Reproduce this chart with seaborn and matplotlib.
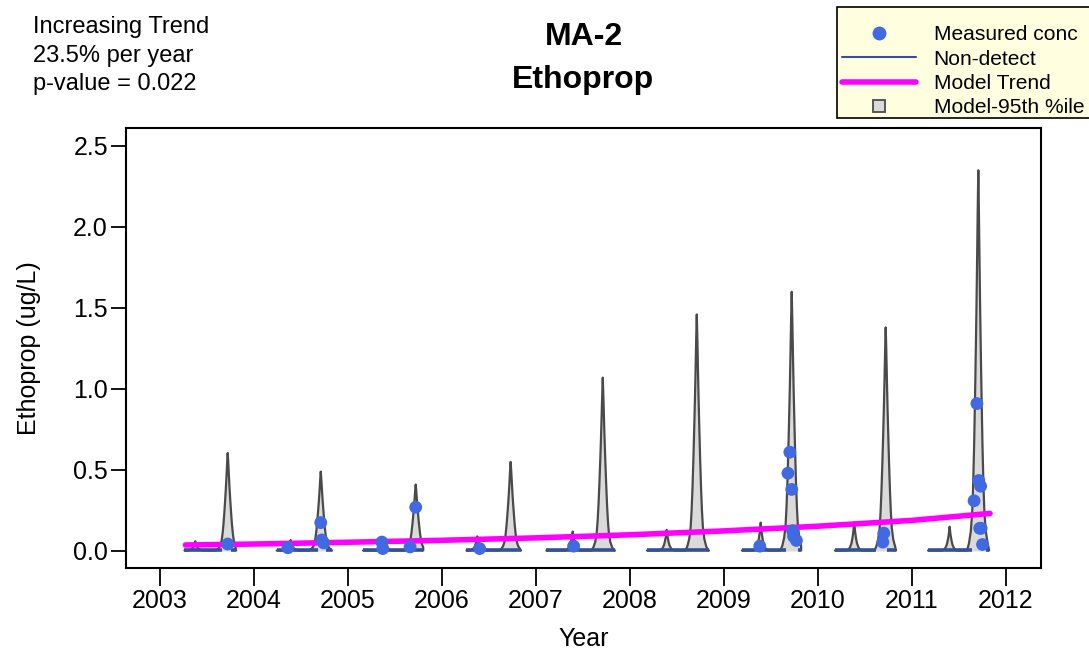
import numpy as np
import pandas as pd
import matplotlib
matplotlib.use("Agg")
import matplotlib.pyplot as plt
import seaborn as sns
from matplotlib.lines import Line2D
from matplotlib.patches import Rectangle

# ---------------- data ----------------
years = [2003, 2004, 2005, 2006, 2007, 2008, 2009, 2010, 2011]
season_start = [2003.26, 2004.24, 2005.16, 2006.26, 2007.11, 2008.18, 2009.19, 2010.18, 2011.17]
season_end = [2003.81, 2004.83, 2005.80, 2006.84, 2007.84, 2008.84, 2009.82, 2010.83, 2011.82]
small_peak_date = [2003.375, 2004.39, 2005.39, 2006.375, 2007.39, 2008.39, 2009.39, 2010.385, 2011.40]
small_peak_conc = [0.06, 0.068, 0.07, 0.09, 0.12, 0.13, 0.175, 0.177, 0.15]
big_peak_date = [2003.72, 2004.71, 2005.72, 2006.73, 2007.71, 2008.71, 2009.72, 2010.72, 2011.705]
big_peak_conc = [0.605, 0.49, 0.41, 0.55, 1.07, 1.46, 1.60, 1.38, 2.35]
base_conc = 0.003

# peak shapes: offset from peak (yr) and fraction of peak height
big_offsets = [0.0, 0.006, 0.013, 0.02, 0.027, 0.035, 0.045, 0.055, 0.065, 0.08, 0.10, 0.12]
big_fracs = [1.0, 0.9, 0.76, 0.63, 0.52, 0.4, 0.27, 0.17, 0.10, 0.05, 0.018, 0.0]
small_offsets = [0.0, 0.005, 0.01, 0.02, 0.03, 0.045, 0.06, 0.08]
small_fracs = [1.0, 0.82, 0.65, 0.42, 0.25, 0.11, 0.04, 0.0]

# measured concentrations
meas_date = [2003.72, 2004.36, 2004.71, 2004.72, 2004.74, 2005.36, 2005.37, 2005.66, 2005.72,
             2006.40, 2007.40, 2009.38, 2009.70, 2009.68, 2009.72, 2009.73, 2009.74, 2009.77,
             2010.70, 2010.69, 2011.69, 2011.71, 2011.73, 2011.66, 2011.72, 2011.735, 2011.75]
meas_conc = [0.043, 0.02, 0.175, 0.068, 0.05, 0.055, 0.015, 0.025, 0.27,
             0.015, 0.03, 0.03, 0.61, 0.48, 0.38, 0.125, 0.09, 0.065,
             0.11, 0.055, 0.91, 0.435, 0.40, 0.31, 0.14, 0.14, 0.04]

# non-detect spans (start, end)
nd_start = [2003.26, 2003.75, 2004.24, 2004.38, 2004.77, 2005.16, 2005.39, 2005.68, 2006.26, 2006.42,
            2007.11, 2007.42, 2008.18, 2009.19, 2009.40, 2009.79, 2010.18, 2010.73, 2011.17, 2011.79]
nd_end = [2003.66, 2003.81, 2004.34, 2004.68, 2004.83, 2005.34, 2005.64, 2005.80, 2006.38, 2006.84,
          2007.38, 2007.84, 2008.84, 2009.36, 2009.66, 2009.82, 2010.62, 2010.83, 2011.64, 2011.82]
nd_level = 0.008

# model trend
trend_date = [2003.27, 2004.0, 2005.0, 2006.0, 2007.0, 2008.0, 2009.0, 2010.0, 2011.0, 2011.83]
trend_conc = [0.037, 0.043, 0.054, 0.066, 0.081, 0.100, 0.124, 0.153, 0.189, 0.232]

x_ticks = [2003, 2004, 2005, 2006, 2007, 2008, 2009, 2010, 2011, 2012]
y_ticks = [0.0, 0.5, 1.0, 1.5, 2.0, 2.5]
y_tick_labels = ["0.0", "0.5", "1.0", "1.5", "2.0", "2.5"]

# ---------------- build model curve table ----------------
rows = []
for i, yr in enumerate(years):
    pts = [(season_start[i], base_conc)]
    for pd_, pc, offs, frs in [(small_peak_date[i], small_peak_conc[i], small_offsets, small_fracs),
                               (big_peak_date[i], big_peak_conc[i], big_offsets, big_fracs)]:
        left = [(pd_ - o, base_conc + (pc - base_conc) * f) for o, f in zip(offs[::-1], frs[::-1])]
        right = [(pd_ + o, base_conc + (pc - base_conc) * f) for o, f in zip(offs[1:], frs[1:])]
        pts += left + right
    pts.append((season_end[i], base_conc))
    pts = [p for p in pts if season_start[i] <= p[0] <= season_end[i]]
    pts.sort(key=lambda p: p[0])
    for d, c in pts:
        rows.append({"year": yr, "date": d, "conc": c})
model_df = pd.DataFrame(rows)
meas_df = pd.DataFrame({"date": meas_date, "conc": meas_conc})
trend_df = pd.DataFrame({"date": trend_date, "conc": trend_conc})

# ---------------- plot ----------------
sns.set_style("ticks")
plt.rcParams["font.family"] = ["Liberation Sans", "DejaVu Sans"]
plt.rcParams.update({"text.color": "black", "axes.labelcolor": "black",
                     "xtick.color": "black", "ytick.color": "black"})

W, H = 1089, 656
fig = plt.figure(figsize=(W / 100, H / 100), dpi=100)
ax = fig.add_axes([126 / W, 1 - 568 / H, (1041 - 126) / W, (568 - 128) / H])

fill_c = "#dadada"
line_c = "#4a4a4a"
for yr, g in model_df.groupby("year"):
    ax.fill_between(g["date"], 0, g["conc"], color=fill_c, lw=0, zorder=1)
sns.lineplot(data=model_df, x="date", y="conc", units="year", estimator=None, sort=False,
             color=line_c, lw=1.6, ax=ax, zorder=2)
ax.hlines([nd_level] * len(nd_start), nd_start, nd_end, color="#34509c", lw=2.6, zorder=3)
sns.lineplot(data=trend_df, x="date", y="conc", color="#ff00ff", lw=4, ax=ax, zorder=4)
sns.scatterplot(data=meas_df, x="date", y="conc", color="#4169e1", s=85, edgecolor="none",
                ax=ax, zorder=5)

ax.set_xlim(2002.638, 2012.372)
ax.set_ylim(-0.105, 2.611)
ax.set_xticks(x_ticks)
ax.set_xticklabels([str(v) for v in x_ticks])
ax.set_yticks(y_ticks)
ax.set_yticklabels(y_tick_labels)
ax.tick_params(axis="x", length=13, width=1.3, labelsize=18, pad=2, color="black", labelcolor="black")
ax.tick_params(axis="y", length=11, width=1.3, labelsize=18, pad=2, color="black", labelcolor="black")
for s in ax.spines.values():
    s.set_visible(True)
    s.set_linewidth(1.5)
    s.set_color("black")

ax.set_xlabel("Year", fontsize=18, color="black")
ax.set_ylabel("Ethoprop (ug/L)", fontsize=18, color="black")
ax.xaxis.set_label_coords(0.5, -(627 - 568) / 440)
ax.yaxis.set_label_coords(-(126 - 41) / 915, 0.5)

# title
fig.text(583.5 / W, 1 - 45 / H, "MA-2", ha="center", va="baseline", fontsize=23, fontweight="bold", color="black")
fig.text(583.5 / W, 1 - 88 / H, "Ethoprop", ha="center", va="baseline", fontsize=23, fontweight="bold", color="black")

# trend annotation
for txt, base in [("Increasing Trend", 33), ("23.5% per year", 62), ("p-value = 0.022", 90)]:
    fig.text(33 / W, 1 - base / H, txt, ha="left", va="baseline", fontsize=17, color="black")

# legend box (drawn separately) and legend entries
fig.patches.append(Rectangle((837 / W, 1 - 118 / H), (1100 - 837) / W, (118 - 7) / H,
                             transform=fig.transFigure, facecolor="#ffffe0", edgecolor="black",
                             lw=1.2, zorder=0))
handles = [
    Line2D([], [], ls="none", marker="o", color="#4169e1", markersize=10, markeredgewidth=0),
    Line2D([], [], color="#34509c", lw=1.5),
    Line2D([], [], color="#ff00ff", lw=4),
    Line2D([], [], ls="none", marker="s", markerfacecolor=fill_c, markeredgecolor=line_c,
           markeredgewidth=1.3, markersize=9),
]
labels = ["Measured conc", "Non-detect", "Model Trend", "Model-95th %ile"]
leg = fig.legend(handles, labels, loc="upper left", bbox_to_anchor=(833 / W, 1 - 16 / H),
                 bbox_transform=fig.transFigure, borderaxespad=0, fontsize=15.1,
                 frameon=False, handlelength=3.5, handletextpad=0.85, labelspacing=0.25,
                 borderpad=0.45)
for t in leg.get_texts():
    t.set_color("black")

fig.savefig("out.png", dpi=100)
